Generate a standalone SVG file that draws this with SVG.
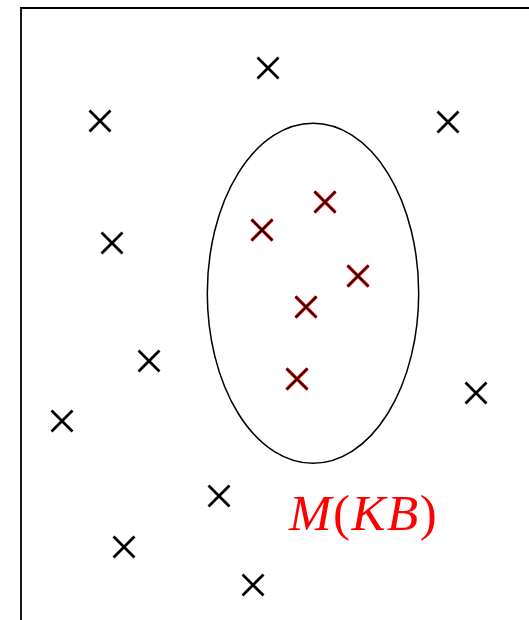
<svg xmlns="http://www.w3.org/2000/svg" width="529" height="620" viewBox="0 0 529 620">
<defs>
<style>
.frame{fill:none;stroke:#000;stroke-width:1.8}
.ell{fill:none;stroke:#000;stroke-width:1.5}
.x{stroke:#000;stroke-width:2.8;fill:none}
.xr{stroke:#ff0000;stroke-width:3.2;fill:none}
.xk{stroke:#000;stroke-width:1.7;fill:none}
.lbl{font-family:"Liberation Serif","Times New Roman",serif;font-size:51px;letter-spacing:1.5px;fill:#ff0000}
</style>
<path id="cr" d="M-10.5,-10.5L10.5,10.5M-10.5,10.5L10.5,-10.5"/>
</defs>
<rect width="529" height="620" fill="#fff"/>
<path class="frame" d="M21,620V8H529"/>
<g id="set">
<ellipse class="ell" cx="313" cy="293.3" rx="105.7" ry="170"/>
</g>
<g id="outside">
<use href="#cr" class="x" x="268" y="68"/>
<use href="#cr" class="x" x="100" y="121"/>
<use href="#cr" class="x" x="448" y="122"/>
<use href="#cr" class="x" x="112" y="243"/>
<use href="#cr" class="x" x="149" y="361"/>
<use href="#cr" class="x" x="62" y="421"/>
<use href="#cr" class="x" x="476" y="393"/>
<use href="#cr" class="x" x="219" y="496"/>
<use href="#cr" class="x" x="124" y="547"/>
<use href="#cr" class="x" x="253" y="585"/>
</g>
<g id="inside">
<use href="#cr" class="xr" x="325" y="202"/>
<use href="#cr" class="xr" x="262" y="230"/>
<use href="#cr" class="xr" x="358" y="276"/>
<use href="#cr" class="xr" x="306" y="307"/>
<use href="#cr" class="xr" x="297" y="379"/>
<use href="#cr" class="xk" x="325" y="202"/>
<use href="#cr" class="xk" x="262" y="230"/>
<use href="#cr" class="xk" x="358" y="276"/>
<use href="#cr" class="xk" x="306" y="307"/>
<use href="#cr" class="xk" x="297" y="379"/>
</g>
<g id="label">
<text class="lbl" x="289" y="530"><tspan font-style="italic">M</tspan>(<tspan font-style="italic">KB</tspan>)</text>
</g>
</svg>
